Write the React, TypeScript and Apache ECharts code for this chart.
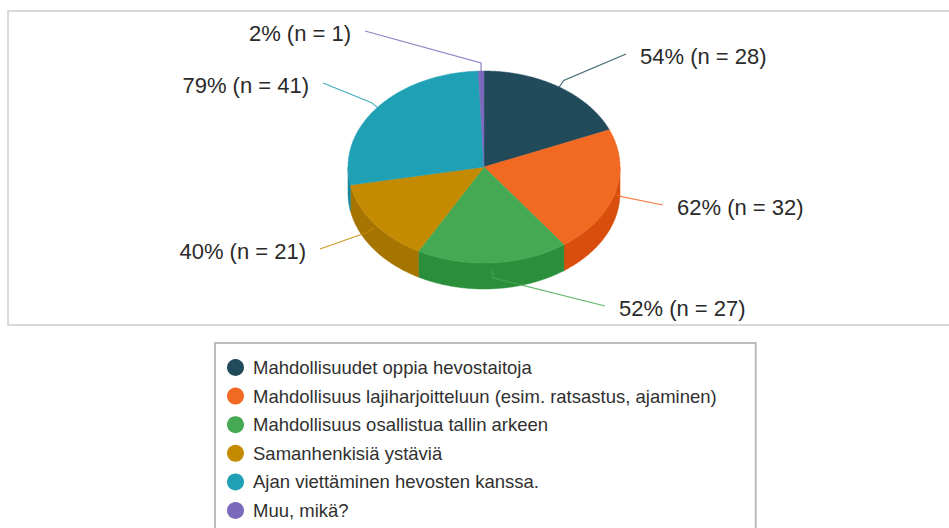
import React, { useEffect, useRef } from "react";
import * as echarts from "echarts";

// ---- data ----
const categories: string[] = [
  "Mahdollisuudet oppia hevostaitoja",
  "Mahdollisuus lajiharjoitteluun (esim. ratsastus, ajaminen)",
  "Mahdollisuus osallistua tallin arkeen",
  "Samanhenkisiä ystäviä",
  "Ajan viettäminen hevosten kanssa.",
  "Muu, mikä?",
];
const counts: number[] = [28, 32, 27, 21, 41, 1];
const respondents = 52;

// ---- styles ----
const topColors = ["#214b5a", "#f26a22", "#45a853", "#c38a02", "#20a0b5", "#7b69bb"];
const sideColors = ["#17394a", "#d94e0c", "#2b8e3b", "#a67400", "#16879b", "#5f509b"];
const FONT = "'Liberation Sans', Arial, sans-serif";

// ---- layout ----
const CX = 484;
const CY = 167;
const RX = 136;
const RY = 96;
const DEPTH = 26;
// label line end points, relative to the pie centre
const labelEnds: number[][] = [
  [142, -113],
  [179, 38],
  [121, 139],
  [-164, 82],
  [-161, -84],
  [-119, -136],
];

const rad = (d: number) => (d * Math.PI) / 180;
const pt = (deg: number, dy = 0): number[] => [
  CX + RX * Math.sin(rad(deg)),
  CY - RY * Math.cos(rad(deg)) + dy,
];
const arc = (a0: number, a1: number, dy = 0): number[][] => {
  const n = Math.max(2, Math.ceil(Math.abs(a1 - a0) / 0.5));
  const out: number[][] = [];
  for (let k = 0; k <= n; k++) out.push(pt(a0 + ((a1 - a0) * k) / n, dy));
  return out;
};

export default function App() {
  const ref = useRef<HTMLDivElement>(null);

  useEffect(() => {
    if (!ref.current) return;
    const chart = echarts.init(ref.current, undefined, { renderer: "svg" });
    const total = counts.reduce((a, b) => a + b, 0);

    const series = categories.map((name, i) => ({
      type: "custom",
      name,
      coordinateSystem: "none",
      itemStyle: { color: topColors[i] },
      data: [counts[i]],
      renderItem: (_params: any, api: any) => {
        const v = api.value(0) as number;
        let before = 0;
        for (let j = 0; j < i; j++) before += counts[j];
        const a0 = (before / total) * 360;
        const a1 = a0 + (v / total) * 360;
        const children: any[] = [];

        // side wall (front-facing part only)
        const s = Math.max(a0, 90);
        const e = Math.min(a1, 270);
        if (e > s) {
          const topEdge = arc(s, e);
          const bottomEdge = arc(e, s, DEPTH);
          children.push({
            type: "polygon",
            z2: 1,
            shape: { points: topEdge.concat(bottomEdge) },
            style: { fill: sideColors[i], stroke: sideColors[i], lineWidth: 0.5 },
          });
        }
        // top face
        children.push({
          type: "polygon",
          z2: 5,
          shape: { points: [[CX, CY]].concat(arc(a0, a1)) },
          style: { fill: topColors[i], stroke: topColors[i], lineWidth: 0.5 },
        });

        // label + leader line
        const mid = (a0 + a1) / 2;
        const c = Math.cos(rad(mid));
        const sn = Math.sin(rad(mid));
        const shift = c < 0 ? -c * DEPTH * 0.27 : 0;
        const anchor = pt(mid, shift);
        const elbow = [anchor[0] + 8 * sn, anchor[1] - 8 * c];
        const end = [CX + labelEnds[i][0], CY + labelEnds[i][1]];
        const right = end[0] >= CX;
        children.push({
          type: "polyline",
          z2: 8,
          shape: { points: [anchor, elbow, end] },
          style: { stroke: topColors[i], lineWidth: 1.2, fill: null, opacity: 0.85 },
        });
        const pct = Math.round((v / respondents) * 100);
        children.push({
          type: "text",
          z2: 9,
          x: end[0] + (right ? 14 : -14),
          y: end[1] + 2,
          style: {
            text: `${pct}% (n = ${v})`,
            fill: "#2a2a2a",
            fontSize: 22,
            fontFamily: FONT,
            align: right ? "left" : "right",
            verticalAlign: "middle",
          },
        });
        return { type: "group", children };
      },
    }));

    chart.setOption({
      animation: false,
      backgroundColor: "#ffffff",
      graphic: [
        {
          type: "rect",
          silent: true,
          z: -1,
          shape: { x: 8, y: 11, width: 1000, height: 314 },
          style: { fill: "none", stroke: "#dadada", lineWidth: 2 },
        },
      ],
      legend: {
        data: categories,
        orient: "vertical",
        left: 215,
        top: 343,
        height: 400,
        icon: "circle",
        itemWidth: 17,
        itemHeight: 17,
        itemGap: 9.6,
        borderColor: "#bdbdbd",
        borderWidth: 2,
        padding: [15, 39, 14, 12],
        selectedMode: false,
        textStyle: {
          fontSize: 18.5,
          color: "#303030",
          fontFamily: FONT,
          padding: [0, 0, 0, 4],
        },
      },
      series,
    });
    return () => chart.dispose();
  }, []);

  return (
    <div
      ref={ref}
      style={{ position: "fixed", left: 0, top: 0, width: 949, height: 528 }}
    />
  );
}
